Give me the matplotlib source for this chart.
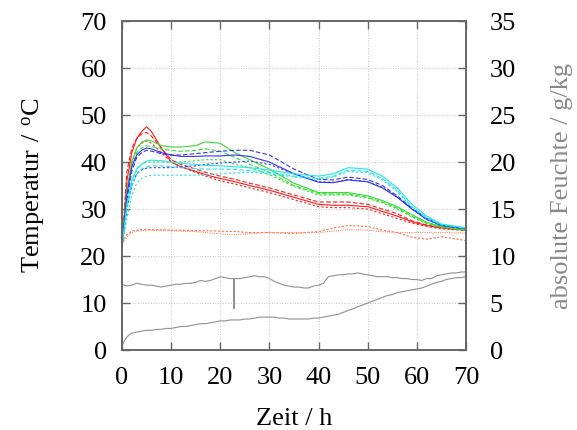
import matplotlib
matplotlib.use("Agg")
import matplotlib.pyplot as plt

plt.rcParams['font.family'] = ['Liberation Serif', 'DejaVu Serif']
plt.rcParams['mathtext.fontset'] = 'custom'
plt.rcParams['mathtext.rm'] = 'Liberation Serif'

# time axis for temperature curves [h]
t = [0, 1, 2, 3, 4, 5, 6, 8, 10, 12, 15, 17, 20, 23, 26, 30, 35, 40, 43, 46, 50, 53, 56, 59, 62, 65, 70]

red_1 = [22, 36, 42, 45, 46.5, 47.5, 46.5, 43, 40, 39, 38, 37.3, 36.5, 35.8, 35, 34, 32.5, 31, 30.8, 30.8, 30.5, 29.5, 28.5, 27.3, 26.5, 26, 25.5]
red_2 = [22, 38, 43, 45, 46, 46.3, 45.5, 43, 40.5, 39.5, 38.5, 37.8, 37, 36.3, 35.5, 34.5, 33, 31.5, 31.5, 31.5, 31, 30, 29, 27.5, 26.6, 26, 25.5]
red_3 = [22, 34, 40, 43, 44, 44.5, 44, 42, 40, 39, 37.8, 37, 36, 35.3, 34.5, 33.5, 32, 30.5, 30.3, 30.3, 30, 29, 28, 27, 26.3, 25.8, 25.4]

green_1 = [22, 34, 40, 43, 44.2, 44.7, 44.5, 43.5, 43.2, 43.2, 43.5, 44.3, 44, 42, 40.5, 38.5, 35.5, 33.5, 33.5, 33.5, 32.8, 31.8, 30.5, 28.8, 27.2, 26.3, 25.6]
green_2 = [22, 33, 39, 42, 43, 43.5, 43.3, 42.8, 42.5, 42.3, 42.5, 42.8, 42.3, 41, 39.5, 37.8, 35, 33.3, 33.2, 33.2, 32.5, 31.5, 30.2, 28.5, 27, 26.2, 25.5]
green_3 = [22, 31, 36, 38.5, 39.5, 40, 40, 40, 40, 40, 40.3, 40.5, 40.5, 39.5, 38.8, 37.3, 34.8, 33, 33, 33, 32.3, 31.3, 30, 28.3, 26.9, 26.1, 25.5]

blue_1 = [22, 33, 39, 41.5, 42.5, 43, 42.8, 42, 41.5, 41.2, 41.2, 41.3, 41.3, 41.5, 41.2, 40, 37.5, 35.7, 35.6, 36.2, 35.8, 34.5, 32.5, 30, 27.8, 26.5, 25.8]
blue_2 = [22, 32, 38, 41, 42, 42.5, 42.3, 41.8, 41.5, 41.5, 41.8, 42, 42.3, 42.5, 42.5, 41.5, 38.5, 36.3, 36.2, 36.8, 36.3, 35, 32.8, 30.2, 28, 26.6, 25.8]
blue_3 = [22, 30, 35, 37.5, 38.3, 38.7, 38.8, 38.8, 38.8, 39, 39.2, 39.5, 39.8, 40, 40.2, 39.5, 37.5, 35.8, 35.7, 36.3, 35.8, 34.6, 32.6, 30, 27.8, 26.5, 25.8]

cyan_1 = [22, 31, 36, 38.5, 39.5, 40.2, 40.4, 40.3, 40, 39.7, 39.5, 39.3, 39.2, 39, 38.8, 38.3, 37.5, 37, 37.5, 38.8, 38.5, 37, 34.5, 31, 28.5, 26.8, 26]
cyan_2 = [22, 30, 35, 37.5, 38.5, 39, 39.2, 39.2, 39, 38.8, 38.6, 38.5, 38.5, 38.4, 38.2, 37.8, 37, 36.5, 37, 38.3, 38, 36.5, 34, 30.5, 28.2, 26.7, 25.9]
cyan_3 = [22, 28, 33, 35.5, 36.5, 37, 37.2, 37.2, 37.2, 37.2, 37.2, 37.3, 37.5, 37.7, 37.8, 37.5, 36.8, 36.3, 36.8, 38, 37.7, 36.2, 33.7, 30.3, 28, 26.6, 25.9]

orange_1 = [23, 24.5, 25.3, 25.5, 25.6, 25.7, 25.6, 25.6, 25.5, 25.5, 25.4, 25.4, 25.3, 25.2, 25.0, 25.0, 24.8, 25.2, 26.0, 26.5, 26.3, 25.5, 25.0, 24.0, 23.6, 24.1, 23.3]
orange_2 = [22.5, 24.0, 25.0, 25.3, 25.4, 25.5, 25.5, 25.4, 25.4, 25.3, 25.2, 25.0, 24.7, 24.5, 24.8, 25.0, 25.0, 25.0, 25.3, 25.6, 25.5, 25.2, 25.0, 25.0, 25.0, 25.0, 24.9]

# humidity curves [g/kg]
t_hum = [0, 0.5, 1, 2, 3, 4, 5, 6, 7, 8, 9, 10, 11, 12, 13, 14, 15, 16, 17, 18, 19, 20, 21, 22, 22.7, 22.8, 22.9, 24, 25, 26, 27, 28, 29,
         30, 31, 32, 33, 34, 35, 36, 37, 38, 39, 40, 41, 42, 43, 44, 45, 46, 47, 48, 49, 50, 51, 52, 53, 54, 55, 56, 57,
         58, 59, 60, 61, 62, 63, 64, 65, 66, 67, 68, 69, 70]
hum_1 = [7.0, 6.9, 6.8, 6.9, 7.1, 7.0, 6.9, 6.9, 6.8, 6.7, 6.8, 6.9, 7.0, 7.0, 7.1, 7.1, 7.2, 7.4, 7.3, 7.4, 7.6, 7.8, 7.7, 7.6, 7.6, 4.4, 7.6, 7.6, 7.7, 7.8, 7.9, 7.8, 7.8,
         7.6, 7.3, 7.1, 6.9, 6.8, 6.7, 6.7, 6.6, 6.6, 6.8, 6.9, 7.1, 7.8, 7.9, 8.0, 8.0, 8.1, 8.1, 8.2, 8.1, 8.0, 7.9, 7.8, 7.8, 7.8, 7.7, 7.7, 7.6,
         7.6, 7.5, 7.5, 7.4, 7.6, 7.6, 7.9, 8.0, 8.1, 8.2, 8.2, 8.3, 8.3]
hum_2 = [0.5, 1.0, 1.4, 1.8, 1.9, 2.0, 2.1, 2.1, 2.2, 2.2, 2.3, 2.3, 2.4, 2.5, 2.5, 2.6, 2.7, 2.8, 2.8, 2.9, 3.0, 3.1, 3.1, 3.2, 3.2, 3.2, 3.2, 3.2, 3.3, 3.3, 3.4, 3.5, 3.5,
         3.5, 3.5, 3.4, 3.4, 3.3, 3.3, 3.3, 3.3, 3.3, 3.4, 3.4, 3.5, 3.6, 3.7, 3.8, 4.0, 4.2, 4.4, 4.6, 4.8, 5.0, 5.2, 5.4, 5.6, 5.8, 5.9, 6.1, 6.2,
         6.3, 6.4, 6.5, 6.6, 6.8, 7.0, 7.2, 7.3, 7.5, 7.6, 7.7, 7.7, 7.8]

styles = ['-', (0, (4, 2)), (0, (2, 2))]
groups = [
    ('#ff1a1a', [red_1, red_2, red_3]),
    ('#33dd33', [green_1, green_2, green_3]),
    ('#3333ee', [blue_1, blue_2, blue_3]),
    ('#22e5ee', [cyan_1, cyan_2, cyan_3]),
]

fig = plt.figure(figsize=(5.77, 4.30), dpi=100)
ax = fig.add_axes([0.2114, 0.186, 0.5962, 0.765])

for col, series in groups:
    for ys, ls in zip(series, styles):
        ax.plot(t, ys, color=col, lw=0.8, ls=ls)
ax.plot(t, orange_1, color='#ff7050', lw=0.8, ls=(0, (2, 1.5)))
ax.plot(t, orange_2, color='#ff8a6a', lw=0.8, ls=(0, (1, 1)))

ax.set_xlim(0, 70)
ax.set_ylim(0, 70)
ax.set_xticks(range(0, 71, 10))
ax.set_yticks(range(0, 71, 10))
ax.grid(True, color='#c8c8c8', ls=':', lw=0.7)
ax.tick_params(direction='in', length=6, width=1, colors='#666666', labelcolor='black',
               labelsize=19, top=True)
ax.tick_params(axis='x', pad=12)
ax.tick_params(axis='y', pad=11)
ax.set_xlabel('Zeit / h', fontsize=19, labelpad=14)
ax.set_ylabel(r'$\mathrm{Temperatur\ /\ ^{o}C}$', fontsize=19, labelpad=24)
for s in ax.spines.values():
    s.set_color('#666666')
    s.set_linewidth(1.2)

ax2 = ax.twinx()
ax2.plot(t_hum, hum_1, color='#909090', lw=0.8)
ax2.plot(t_hum, hum_2, color='#909090', lw=0.8)
ax2.set_ylim(0, 35)
ax2.set_yticks(range(0, 36, 5))
ax2.tick_params(direction='in', length=6, width=1, colors='#666666', labelcolor='black',
                labelsize=19, pad=17)
ax2.set_ylabel('absolute Feuchte / g/kg', fontsize=19, color='#888888', labelpad=25)
for s in ax2.spines.values():
    s.set_color('#666666')
    s.set_linewidth(1.2)

fig.savefig('out.png', dpi=100)
